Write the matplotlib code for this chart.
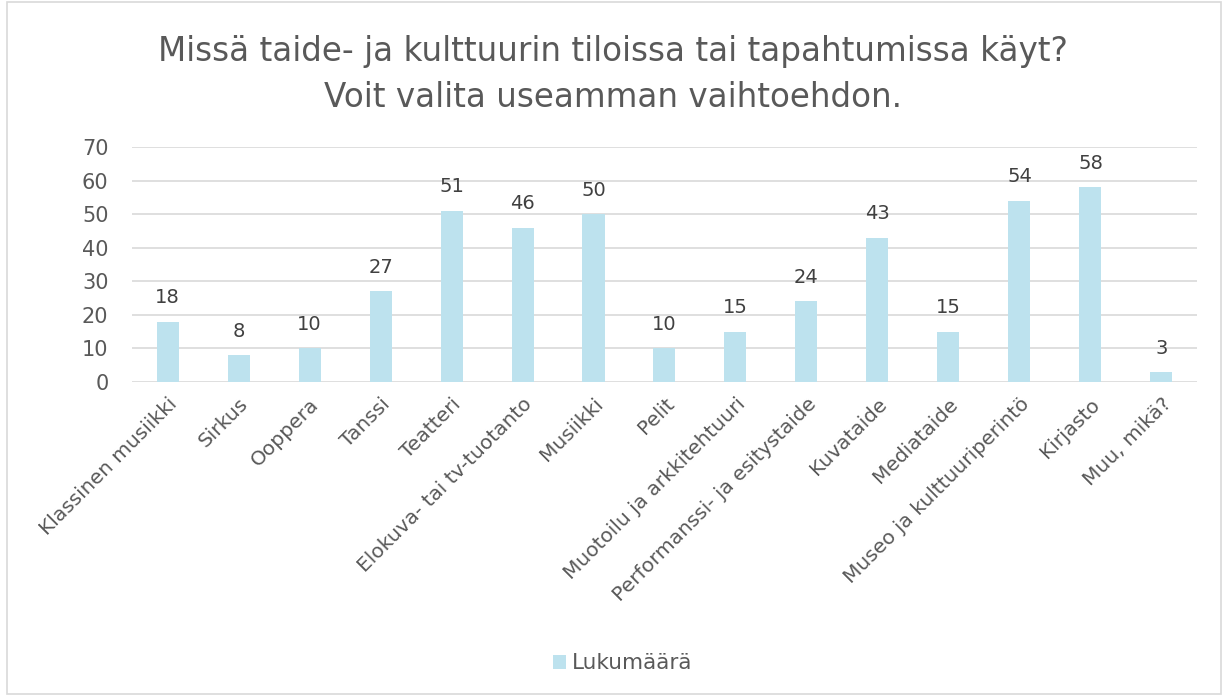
import matplotlib.pyplot as plt
from matplotlib.patches import Rectangle

categories = ['Klassinen musiikki', 'Sirkus', 'Ooppera', 'Tanssi', 'Teatteri',
              'Elokuva- tai tv-tuotanto', 'Musiikki', 'Pelit',
              'Muotoilu ja arkkitehtuuri', 'Performanssi- ja esitystaide',
              'Kuvataide', 'Mediataide', 'Museo ja kulttuuriperintö',
              'Kirjasto', 'Muu, mikä?']
values = [18, 8, 10, 27, 51, 46, 50, 10, 15, 24, 43, 15, 54, 58, 3]
y_ticks = [0, 10, 20, 30, 40, 50, 60, 70]

bar_color = '#BDE2EE'
text_color = '#595959'
grid_color = '#D9D9D9'

plt.rcParams['font.family'] = ['DejaVu Sans']

fig = plt.figure(figsize=(12.26, 6.96), dpi=100)
# light chart border
fig.patches.append(Rectangle((0.006, 0.003), 0.99, 0.994, transform=fig.transFigure,
                             fill=False, edgecolor='#D9D9D9', linewidth=1.2))

ax = fig.add_axes([0.1077, 0.4511, 0.8686, 0.3377])
x = range(len(categories))
bars = ax.bar(x, values, width=0.31, color=bar_color, label='Lukumäärä', zorder=3)

for xi, v in zip(x, values):
    ax.text(xi, v + 4.3, str(v), ha='center', va='bottom', fontsize=14, color='#404040')

ax.set_xlim(-0.5, len(categories) - 0.5)
ax.set_ylim(0, 70)
ax.set_yticks(y_ticks)
ax.yaxis.grid(True, color=grid_color, linewidth=1.2, zorder=0)
ax.tick_params(axis='y', length=0, labelsize=15, labelcolor=text_color, pad=17)
ax.tick_params(axis='x', length=0, labelsize=14.5, labelcolor=text_color, pad=9)
ax.set_xticks(list(x))
ax.set_xticklabels(categories, rotation=45, ha='right', rotation_mode='anchor')
for s in ax.spines.values():
    s.set_visible(False)

fig.text(0.5, 0.893, 'Missä taide- ja kulttuurin tiloissa tai tapahtumissa käyt?\nVoit valita useamman vaihtoehdon.',
         ha='center', va='center', fontsize=23.5, color=text_color, linespacing=1.5)

fig.legend(handles=[bars], labels=['Lukumäärä'], loc='center', bbox_to_anchor=(0.508, 0.047),
           frameon=False, fontsize=15.5, labelcolor=text_color, handlelength=0.6,
           handleheight=0.6, handletextpad=0.3)

fig.savefig('out.png', dpi=100)
